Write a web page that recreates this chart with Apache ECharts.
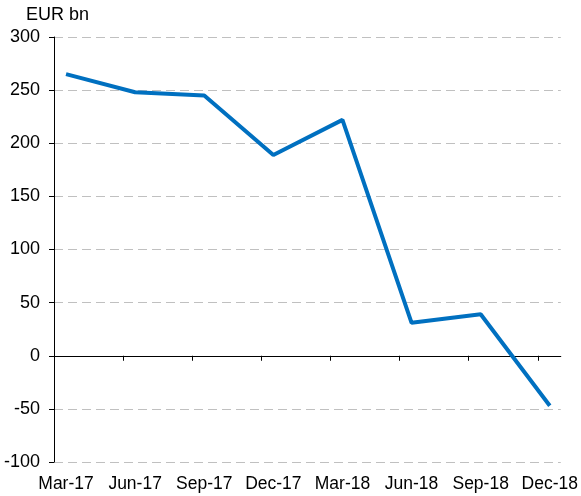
<!DOCTYPE html>
<html lang="en">
<head>
    <meta charset="UTF-8">
    <title>EUR bn</title>
    <script src="https://cdn.jsdelivr.net/npm/echarts@6.0.0/dist/echarts.min.js"></script>
    <style>
        html, body { margin: 0; padding: 0; background: #fff; }
    </style>
</head>
<body>
<div id="chart1" style="width: 581px;height:496px;"></div>

<script>
    // quarters and values (EUR bn)
    var categories = ['Mar-17', 'Jun-17', 'Sep-17', 'Dec-17', 'Mar-18', 'Jun-18', 'Sep-18', 'Dec-18'];
    var values = [265, 248, 245, 189, 222, 31, 39, -47];
    var yTicks = { min: -100, max: 300, step: 50 };

    // x is index based so the tick marks can sit between the points like the original
    var xMin = -0.174;
    var xMax = categories.length - 1 + 0.159;
    var labelPos = categories.map((_, i) => i);
    var tickPos = categories.map((_, i) => xMin + i);

    var font = 'Liberation Sans, Arial, sans-serif';
    var myChart = echarts.init(document.getElementById('chart1'));
    var option = {
        animation: false,
        title: {
            text: 'EUR bn',
            left: 21,
            top: 1,
            textStyle: { fontFamily: font, fontSize: 18, fontWeight: 'normal', color: '#000' }
        },
        grid: {
            left: 54,
            right: 20,
            top: 37,
            bottom: 34
        },
        xAxis: [
            {
                // labels along the bottom
                type: 'value',
                position: 'bottom',
                min: xMin,
                max: xMax,
                axisLine: { show: false, onZero: false },
                axisTick: { show: false },
                splitLine: { show: false },
                axisLabel: {
                    customValues: labelPos,
                    formatter: (v) => categories[Math.round(v)],
                    margin: 13,
                    fontFamily: font,
                    fontSize: 17.5,
                    color: '#000'
                }
            },
            {
                // the zero line with its ticks
                type: 'value',
                position: 'top',
                min: xMin,
                max: xMax,
                axisLine: { show: true, onZero: true, lineStyle: { color: '#000', width: 1 } },
                axisTick: { show: true, inside: true, length: 5, customValues: tickPos, lineStyle: { color: '#000' } },
                axisLabel: { show: false },
                splitLine: { show: false }
            }
        ],
        yAxis: {
            type: 'value',
            min: yTicks.min,
            max: yTicks.max,
            interval: yTicks.step,
            axisLine: { show: true, onZero: false, lineStyle: { color: '#000', width: 1 } },
            axisTick: { show: true, length: 5, lineStyle: { color: '#000' } },
            axisLabel: { margin: 14, fontFamily: font, fontSize: 18, color: '#000' },
            splitLine: { show: true, lineStyle: { color: '#c0c0c0', type: [9, 5], width: 1 } }
        },
        series: [{
            type: 'line',
            xAxisIndex: 0,
            data: values.map((v, i) => [i, v]),
            symbol: 'none',
            lineStyle: { color: '#0070c0', width: 4 }
        }]
    };
    myChart.setOption(option);
</script>
</body>
</html>
